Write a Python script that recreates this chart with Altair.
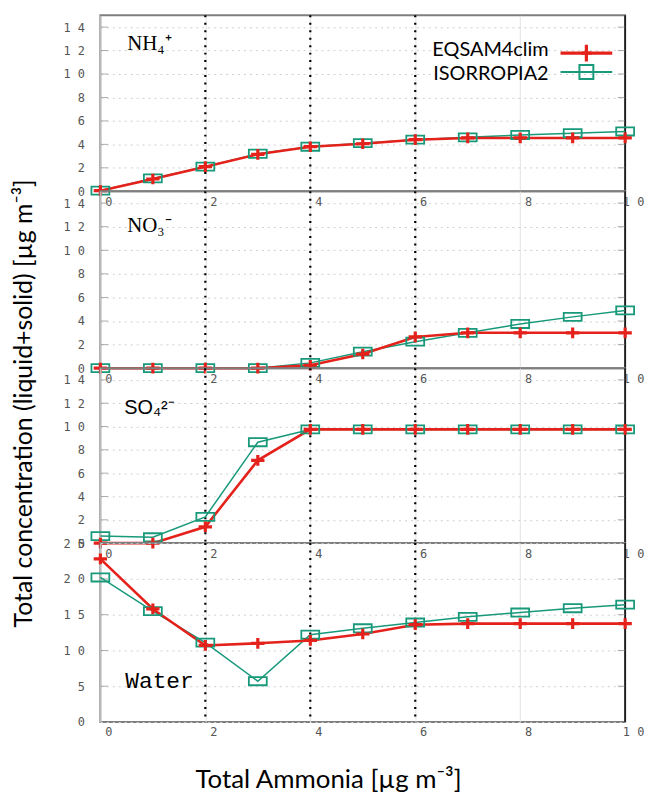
import altair as alt
import pandas as pd

# Total ammonia added [µg m-3]
ammonia = [0, 1, 2, 3, 4, 5, 6, 7, 8, 9, 10]

# Total (liquid + solid) concentrations for each species, per model
nh4_eqsam = [0.05, 1.05, 2.1, 3.15, 3.8, 4.05, 4.4, 4.55, 4.55, 4.55, 4.55]
nh4_isorropia = [0.05, 1.1, 2.1, 3.2, 3.8, 4.1, 4.4, 4.6, 4.8, 4.95, 5.1]

no3_eqsam = [0.0, 0.0, 0.0, 0.0, 0.25, 1.2, 2.65, 3.0, 3.0, 3.0, 3.0]
no3_isorropia = [0.0, 0.0, 0.0, 0.0, 0.45, 1.4, 2.25, 3.0, 3.75, 4.35, 4.9]

so4_eqsam = [0.0, 0.0, 1.4, 7.1, 9.75, 9.75, 9.75, 9.75, 9.75, 9.75, 9.75]
so4_isorropia = [0.6, 0.5, 2.25, 8.65, 9.75, 9.75, 9.75, 9.75, 9.75, 9.75, 9.75]

water_eqsam = [22.8, 15.8, 10.7, 11.0, 11.4, 12.3, 13.6, 13.75, 13.75, 13.75, 13.75]
water_isorropia = [20.2, 15.5, 11.1, 5.7, 12.2, 13.1, 13.9, 14.7, 15.3, 15.9, 16.4]

models = ["EQSAM4clim", "ISORROPIA2"]
model_colors = ["#e4221b", "#17997a"]
x_ticks = [0, 2, 4, 6, 8, 10]
marker_lines = [2, 4, 6]
x_min, x_max = 0, 10

# symbol paths: a wide, flat open box and a plus (plot); square and tall bar (key)
BOX = "M-1,-0.45L1,-0.45L1,0.45L-1,0.45Z"
PLUS = "M-1,0L1,0M0,-0.8L0,0.8"
KEY_BOX = "M-1,-1L1,-1L1,1L-1,1Z"
KEY_PLUS = "M-0.6,0L0.6,0M0,-1L0,1"

PANEL_W = 528

LABEL_EXPR = "join(split(datum.label, ''), ' ')"


def panel(eqsam, isorropia, y_max, y_step, top, height, label, label_font,
          label_size, label_pos, last=False, legend=False):
    df = pd.DataFrame({
        "x": ammonia * 2,
        "value": eqsam + isorropia,
        "model": [models[0]] * len(ammonia) + [models[1]] * len(ammonia),
    })
    y_values = list(range(0, y_max + 1, y_step))
    grid_values = [v for v in y_values if 0 < v < top]

    x_axis = alt.Axis(
        values=x_ticks, title="Total Ammonia [µg m⁻³]" if last else None,
        labelExpr=LABEL_EXPR, grid=True, labelOverlap=False, labelFlush=False,
        titleX=229, titleAlign="center",
    )
    y_axis = alt.Axis(values=y_values, title=None, labelExpr=LABEL_EXPR,
                      grid=True, labelOverlap=False)
    x_enc = alt.X("x:Q", scale=alt.Scale(domain=[x_min, x_max], nice=False),
                  axis=x_axis)
    y_enc = alt.Y("value:Q", scale=alt.Scale(domain=[0, top], nice=False),
                  axis=y_axis)

    layers = []

    # dotted reference lines
    layers.append(
        alt.Chart(pd.DataFrame({"x": marker_lines}))
        .mark_rule(color="black", strokeWidth=2.2, strokeDash=[2, 5.5])
        .encode(x=x_enc)
    )
    # right frame edge
    layers.append(
        alt.Chart(pd.DataFrame({"x": [x_max]}))
        .mark_rule(color="#111111", strokeWidth=1.6)
        .encode(x=x_enc)
    )
    # inward tick marks on the left and right edges
    for edge, off in [(x_max, -4), (x_min, 4)]:
        layers.append(
            alt.Chart(pd.DataFrame({"x": [edge] * len(grid_values), "value": grid_values}))
            .mark_tick(orient="horizontal", size=7, thickness=1, color="#8a8a8a",
                       xOffset=off)
            .encode(x=x_enc, y=y_enc)
        )

    # model curves
    widths = {models[0]: 2.6, models[1]: 1.5}
    for m, c in [(models[1], model_colors[1]), (models[0], model_colors[0])]:
        layers.append(
            alt.Chart(df[df.model == m])
            .mark_line(color=c, strokeWidth=widths[m])
            .encode(x=x_enc, y=y_enc)
        )
    layers.append(
        alt.Chart(df[df.model == models[1]])
        .mark_point(shape=BOX, size=324, filled=False, color=model_colors[1],
                    strokeWidth=1.8, opacity=1)
        .encode(x=x_enc, y=y_enc)
    )
    layers.append(
        alt.Chart(df[df.model == models[0]])
        .mark_point(shape=PLUS, size=180, filled=False, color=model_colors[0],
                    strokeWidth=3.2, opacity=1)
        .encode(x=x_enc, y=y_enc)
    )

    # species label
    layers.append(
        alt.Chart(pd.DataFrame({"label": [label]}))
        .mark_text(align="left", baseline="alphabetic", font=label_font,
                   fontSize=label_size, color="black")
        .encode(x=alt.value(label_pos[0]), y=alt.value(label_pos[1]), text="label:N")
    )

    if legend:
        rows = [(models[0], model_colors[0], KEY_PLUS, 289, 3.2, 3.4, 38, 41),
                (models[1], model_colors[1], KEY_BOX, 196, 2.0, 2.0, 57, 65)]
        for name, col, shape, size, sw, lw, ypos, ytext in rows:
            ldf = pd.DataFrame({"model": [name]})
            layers.append(
                alt.Chart(ldf).mark_rule(color=col, strokeWidth=lw)
                .encode(x=alt.value(463), x2=alt.value(515), y=alt.value(ypos))
            )
            layers.append(
                alt.Chart(ldf).mark_point(shape=shape, size=size, filled=False,
                                          color=col, strokeWidth=sw, opacity=1)
                .encode(x=alt.value(489), y=alt.value(ypos))
            )
            layers.append(
                alt.Chart(ldf).mark_text(align="right", baseline="alphabetic",
                                         font="Lato", fontSize=20, color="black")
                .encode(x=alt.value(451), y=alt.value(ytext), text="model:N")
            )

    return alt.layer(*layers).properties(width=PANEL_W, height=height)


p_nh4 = panel(nh4_eqsam, nh4_isorropia, 14, 2, 15, 177, "NH₄⁺", "Liberation Serif",
              21, (27, 35), legend=True)
p_no3 = panel(no3_eqsam, no3_isorropia, 14, 2, 15, 178, "NO₃⁻", "Liberation Serif",
              21, (27, 41))
p_so4 = panel(so4_eqsam, so4_isorropia, 14, 2, 15, 176, "SO₄²⁻", "Liberation Sans",
              20, (24, 46))
p_water = panel(water_eqsam, water_isorropia, 25, 5, 25, 180, "Water", "Liberation Mono",
                23, (25, 146), last=True)

chart = (
    alt.vconcat(p_nh4, p_no3, p_so4, p_water, spacing=0, bounds="flush")
    .properties(
        padding={"left": 12, "top": 10, "right": 4, "bottom": 2},
        background="white",
        title=alt.TitleParams(
            text="Total concentration (liquid+solid) [µg m⁻³]",
            orient="left", anchor="middle", font="Lato", fontSize=25,
            fontWeight="normal", color="black", offset=25,
        ),
    )
    .configure_view(stroke="#7f7f7f", strokeWidth=2)
    .configure_axis(
        domain=False, ticks=False,
        labelFont="DejaVu Sans Mono", labelFontSize=12, labelColor="#555555",
        titleFont="Lato", titleFontSize=26, titleFontWeight="normal",
        titleColor="black",
    )
    .configure_axisX(labelOffset=8, labelPadding=5, gridColor="#e2e2e2",
                     gridWidth=1, titlePadding=29)
    .configure_axisY(labelPadding=16, gridColor="#cfcfcf", gridDash=[2, 4],
                     gridWidth=1)
)

chart.save("out.html", embed_options={"renderer": "svg", "actions": False})
